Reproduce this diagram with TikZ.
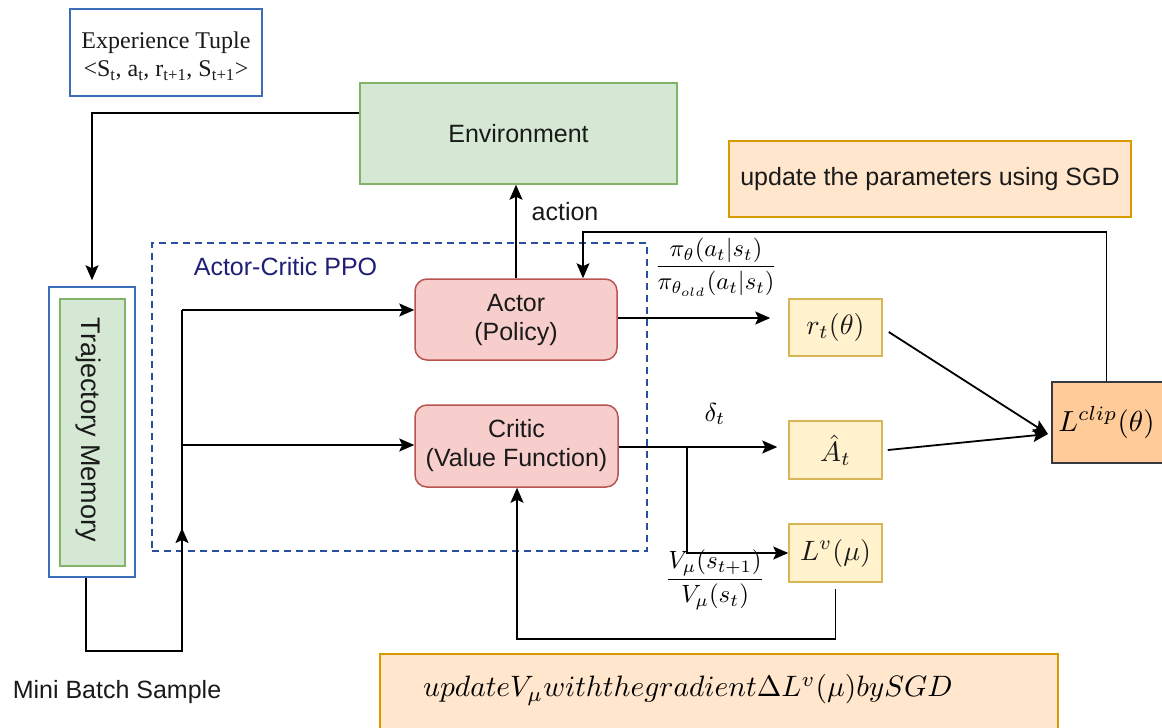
\documentclass[tikz,border=0pt]{standalone}
\usepackage{amsmath}
\usepackage{graphicx}
\usepackage{fontspec}
\newfontfamily\arialf{Liberation Sans}
\newfontfamily\timesf{Liberation Serif}
\usetikzlibrary{arrows.meta,calc}
\newcommand{\scmath}[2]{\scalebox{#1}{$#2$}}
\definecolor{envfill}{HTML}{D5E8D4}
\definecolor{envdraw}{HTML}{82B366}
\definecolor{pinkfill}{HTML}{F8CECC}
\definecolor{pinkdraw}{HTML}{B85450}
\definecolor{yelfill}{HTML}{FFF2CC}
\definecolor{yeldraw}{HTML}{D6B656}
\definecolor{orfill}{HTML}{FFE6CC}
\definecolor{ordraw}{HTML}{D79B00}
\definecolor{clipfill}{HTML}{FFCC99}
\definecolor{clipdraw}{HTML}{36393D}
\definecolor{bluedraw}{HTML}{3B6DB8}
\definecolor{navy}{HTML}{1F1F75}
\definecolor{dashblue}{HTML}{2A4F9E}
\definecolor{txt}{HTML}{1A1A1A}
\tikzset{
  box/.style={draw, line width=1.5pt, inner sep=0pt, align=center, text=txt},
  sans/.style={font=\arialf\fontsize{25}{29}\selectfont, text=txt},
  envbox/.style={box, fill=envfill, draw=envdraw},
  pinkbox/.style={box, fill=pinkfill, draw=pinkdraw, rounded corners=12pt, sans},
  yelbox/.style={box, fill=yelfill, draw=yeldraw},
  orbox/.style={box, fill=orfill, draw=ordraw},
  plain/.style={inner sep=0pt, align=center},
  conn/.style={line width=1.8pt, draw=black},
  arr/.style={conn, -{Stealth[length=15pt,width=13pt,inset=3pt]}},
}
\begin{document}
\begin{tikzpicture}[x=1pt,y=-1pt]
\clip (0,0) rectangle (1162,728);
\useasboundingbox (0,0) rectangle (1162,728);
\fill[white] (0,0) rectangle (1162,728);

% Experience tuple
\node[box, draw=bluedraw, minimum width=192pt, minimum height=87pt] (exp) at (166,52.5) {};
\node[plain, font=\timesf\fontsize{24}{28}\selectfont, text=txt] (exptext) at (166,56)
  {Experience Tuple\\{<}S\textsubscript{t}, a\textsubscript{t}, r\textsubscript{t+1}, S\textsubscript{t+1}{>}};

% Environment
\node[envbox, sans, minimum width=317pt, minimum height=101pt] (env) at (518.5,133.5) {Environment};

% update box top
\node[orbox, sans, minimum width=402pt, minimum height=76pt] (sgd1) at (930,179) {update the parameters using SGD};

% Trajectory memory
\node[box, draw=bluedraw, fill=white, minimum width=86pt, minimum height=290pt] (mem) at (92,432) {};
\node[envbox, minimum width=65pt, minimum height=267pt] (meminner) at (92.5,432.5) {};
\node[plain, font=\arialf\fontsize{27}{30}\selectfont, text=txt, rotate=-90] (memtext) at (88,430) {Trajectory Memory};

% Dashed actor-critic region
\node[draw=dashblue, line width=1.8pt, dash pattern=on 7pt off 5pt, minimum width=495pt, minimum height=308pt, inner sep=0pt] (ppo) at (399.5,397) {};
\node[plain, font=\arialf\fontsize{25}{29}\selectfont, text=navy] (ppotext) at (285.5,267) {Actor-Critic PPO};

% Actor and critic
\node[pinkbox, minimum width=202pt, minimum height=81pt] (actor) at (516,319.5) {Actor\\(Policy)};
\node[pinkbox, minimum width=203pt, minimum height=82pt] (critic) at (516.5,446) {Critic\\(Value Function)};

% Yellow boxes
\node[yelbox, minimum width=93pt, minimum height=57pt] (rt) at (835.5,327.5) {\scmath{2.8}{r_t(\theta)}};
\node[yelbox, minimum width=93pt, minimum height=58pt] (At) at (835.5,450) {\scmath{2.8}{\hat{A}_t}};
\node[yelbox, minimum width=93pt, minimum height=58pt] (Lv) at (835.5,553) {\scmath{2.8}{L^v(\mu)}};

% L clip
\node[box, fill=clipfill, draw=clipdraw, minimum width=130pt, minimum height=81pt] (clip) at (1117,422.5) {};
\node[plain] (cliptext) at (1106.5,422.5) {\scmath{2.9}{L^{clip}(\theta)}};

% bottom update box
\node[orbox, minimum width=678pt, minimum height=90pt] (sgd2) at (719,699) {};
\node[plain, anchor=west] (sgd2text) at (423,690) {\scmath{2.95}{update V_\mu with the gradient \Delta L^v(\mu) by SGD}};

% labels
\node[plain, sans] (actionlbl) at (565,212) {action};
\node[plain, sans] (mbs) at (117,692) {Mini Batch Sample};
\node[plain] (delta) at (715,414) {\scmath{2.6}{\delta_t}};
\node[plain] (pifrac) at (716,267) {\scmath{2.45}{\dfrac{\pi_\theta(a_t|s_t)}{\pi_{\theta_{old}}(a_t|s_t)}}};
\node[plain] (vfrac) at (715,580) {\scmath{2.5}{\dfrac{V_\mu(s_{t+1})}{V_\mu(s_t)}}};

% coordinates
\coordinate (mb) at (86,651);
\coordinate (jt) at (182,310);
\coordinate (jc) at (182,445);
\coordinate (fb) at (583,232);
\coordinate (br) at (687,447);
\coordinate (lb) at (517,639);
\coordinate (clipin) at (1048,434);

% connectors
\draw[arr, shorten >=6pt] ($(env.north west)!0.3!(env.south west)$) -| (mem.north);
\draw[conn] (mem.south -| mb) -- (mb) -- (mb -| jt) -- (jt);
\draw[arr] (mb -| jt) -- (182,528);
\draw[arr] (jt) -- (jt -| actor.west);
\draw[arr] (jc) -- (jc -| critic.west);
\draw[arr] (actor.north) -- (actor.north |- env.south);
\draw[arr] (cliptext |- clip.north) |- (fb) -- (fb |- actor.north);
\draw[arr, shorten >=18pt] (actor.east |- 0,318) -- (rt.west |- 0,318);
\draw[arr, shorten >=11pt] (critic.east |- br) -- (At.west |- br);
\draw[arr] (br) |- (Lv.west);
\draw[arr] ($(rt.east)+(6,4.5)$) -- (clipin);
\draw[arr] ($(At.east)+(5,0)$) -- (clipin);
\draw[arr] ($(Lv.south)+(0,6)$) |- (lb) -- (lb |- critic.south);
\end{tikzpicture}
\end{document}
